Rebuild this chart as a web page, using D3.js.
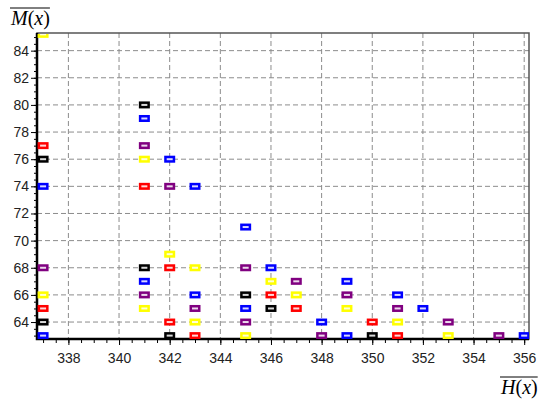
<!DOCTYPE html>
<html>
<head>
<meta charset="utf-8">
<script src="https://cdn.jsdelivr.net/npm/d3@7"></script>
<style>
  body { margin: 0; background: #fff; }
  .tick text { font-family: "Liberation Sans", Arial, sans-serif; font-size: 14px; fill: #222; }
  .ttl { font-family: "Liberation Serif", "Times New Roman", serif; font-size: 20px; fill: #000; }
</style>
</head>
<body>
<div id="chart"></div>
<script>
var svgWidth = 546;
var svgHeight = 401;

var margin = { top: 33, right: 17, bottom: 62, left: 37 };
var width = svgWidth - margin.left - margin.right;
var height = svgHeight - margin.top - margin.bottom;

// tick labels
var xTicks = [338, 340, 342, 344, 346, 348, 350, 352, 354, 356];
var yTicks = [64, 66, 68, 70, 72, 74, 76, 78, 80, 82, 84];

// series
var seriesNames = ["black", "red", "blue", "yellow", "purple"];
var seriesColors = ["#000000", "#ff0000", "#0000ff", "#ffff00", "#800080"];

var blackX = [341, 337, 341, 345, 346, 337, 342, 350];
var blackY = [80, 76, 68, 66, 65, 64, 63, 63];

var redX = [337, 341, 342, 346, 337, 347, 342, 350, 343, 351];
var redY = [77, 74, 68, 66, 65, 65, 64, 64, 63, 63];

var blueX = [341, 342, 337, 343, 345, 346, 341, 349, 343, 351, 345, 352, 348, 337, 349, 356];
var blueY = [79, 76, 74, 74, 71, 68, 67, 67, 66, 66, 65, 65, 64, 63, 63, 63];

var yellowX = [337, 341, 342, 343, 346, 337, 347, 341, 349, 343, 351, 345, 353];
var yellowY = [85.2, 76, 69, 68, 67, 66, 66, 65, 65, 64, 64, 63, 63];

var purpleX = [341, 342, 337, 345, 347, 341, 349, 343, 351, 345, 353, 348, 355];
var purpleY = [77, 74, 68, 68, 67, 66, 66, 65, 65, 64, 64, 63, 63];

var seriesX = [blackX, redX, blueX, yellowX, purpleX];
var seriesY = [blackY, redY, blueY, yellowY, purpleY];

var svg = d3.select("#chart")
  .append("svg")
  .attr("width", svgWidth)
  .attr("height", svgHeight);

var chartGroup = svg.append("g")
  .attr("transform", `translate(${margin.left}, ${margin.top})`);

var xScale = d3.scaleLinear().domain([336.76, 356.19]).range([0, width]);
var yScale = d3.scaleLinear().domain([62.75, 85.3]).range([height, 0]);

// grid
chartGroup.append("g")
  .selectAll("line")
  .data(xTicks)
  .enter()
  .append("line")
  .attr("x1", d => xScale(d)).attr("x2", d => xScale(d))
  .attr("y1", 0).attr("y2", height)
  .attr("stroke", "#8c8c8c").attr("stroke-dasharray", "5,3");

chartGroup.append("g")
  .selectAll("line")
  .data(yTicks)
  .enter()
  .append("line")
  .attr("y1", d => yScale(d)).attr("y2", d => yScale(d))
  .attr("x1", 0).attr("x2", width)
  .attr("stroke", "#8c8c8c").attr("stroke-dasharray", "5,3");

// minor ticks
var xMinor = d3.range(337, 356.01, 0.5);
var yMinor = d3.range(63, 85.01, 0.5);

chartGroup.append("g")
  .attr("transform", `translate(0, ${height})`)
  .call(d3.axisBottom(xScale).tickValues(xMinor).tickSize(4).tickFormat(""))
  .call(g => g.select(".domain").remove());

chartGroup.append("g")
  .call(d3.axisLeft(yScale).tickValues(yMinor).tickSize(3).tickFormat(""))
  .call(g => g.select(".domain").remove());

// main axes
var xAxis = chartGroup.append("g")
  .attr("transform", `translate(0, ${height})`)
  .call(d3.axisBottom(xScale).tickValues(xTicks).tickSize(6).tickPadding(8));
xAxis.select(".domain").remove();

var yAxis = chartGroup.append("g")
  .call(d3.axisLeft(yScale).tickValues(yTicks).tickSize(6).tickPadding(2));
yAxis.select(".domain").remove();

// frame
chartGroup.append("rect")
  .attr("x", 0).attr("y", 0)
  .attr("width", width).attr("height", height)
  .attr("fill", "none").attr("stroke", "#555").attr("stroke-width", 1.5);

chartGroup.append("path")
  .attr("d", `M0,0V${height}H${width}`)
  .attr("fill", "none").attr("stroke", "#000").attr("stroke-width", 2.5);

// clip
svg.append("defs").append("clipPath").attr("id", "plotClip")
  .append("rect").attr("x", 0).attr("y", 1).attr("width", width).attr("height", height - 1);

var marks = chartGroup.append("g").attr("clip-path", "url(#plotClip)");

seriesNames.forEach(function (name, i) {
  var pts = seriesX[i].map((x, j) => ({ x: x, y: seriesY[i][j] }));
  var g = marks.append("g").classed(name, true);

  g.selectAll("rect.m")
    .data(pts)
    .enter()
    .append("rect")
    .classed("m", true)
    .attr("x", d => xScale(d.x) - 5.5)
    .attr("y", d => yScale(d.y) - 3.5)
    .attr("width", 11)
    .attr("height", 7)
    .attr("fill", seriesColors[i]);

  g.selectAll("rect.w")
    .data(pts)
    .enter()
    .append("rect")
    .classed("w", true)
    .attr("x", d => xScale(d.x) - 3)
    .attr("y", d => yScale(d.y) - 1)
    .attr("width", 6)
    .attr("height", 2)
    .attr("fill", "#fff")
    .attr("opacity", 0.85);
});

// axis titles with overline
function overTitle(x, y, letter) {
  var t = svg.append("text").attr("class", "ttl").attr("x", x).attr("y", y);
  t.append("tspan").attr("font-style", "italic").text(letter);
  t.append("tspan").text("(");
  t.append("tspan").attr("font-style", "italic").text("x");
  t.append("tspan").text(")");
  var bb = t.node().getBBox();
  svg.append("line")
    .attr("x1", bb.x).attr("x2", bb.x + bb.width)
    .attr("y1", bb.y + 1).attr("y2", bb.y + 1)
    .attr("stroke", "#000").attr("stroke-width", 1);
}

overTitle(11, 25, "M");
overTitle(501, 394, "H");
</script>
</body>
</html>
